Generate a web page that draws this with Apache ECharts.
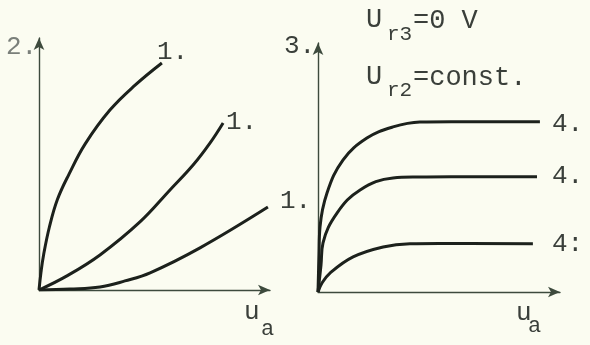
<!DOCTYPE html>
<html>
<head>
<meta charset="utf-8">
<script src="https://cdn.jsdelivr.net/npm/echarts@6/dist/echarts.min.js"></script>
<style>
  html, body { margin: 0; padding: 0; background: #fbfcf1; }
  #chart { width: 590px; height: 345px; }
</style>
</head>
<body>
<div id="chart"></div>
<script>
// left panel: three curves, [x, y] in axis units 0..100
var leftTop = [[0,0],[0.87,7.1],[2,14],[4.5,25],[8,36],[13,46],[20,58],[30.7,71.4],[41.6,81.3],[53.2,90.1]];
var leftMid = [[0,0],[12.1,5.6],[26.4,13.9],[43.7,27.0],[56.7,39.7],[66.7,49.6],[74.0,58.3],[79.7,66.3]];
var leftLow = [[0,0],[13.4,0.4],[26.4,1.2],[37.2,3.6],[48.1,6.8],[69.7,16.7],[99.1,32.9]];

// right panel: three saturating curves
var rightTop = [[0,0],[0.41,14.9],[0.83,26.1],[3.72,39.8],[10.3,53.0],[20.2,61.8],[31.0,66.3],[42.1,68.3],[55,68.4],[91.7,68.4]];
var rightMid = [[0,0],[1.24,10.8],[2.07,19.7],[7.85,31.7],[17.4,41.0],[31.0,45.8],[42.1,46.2],[55,46.3],[90.5,46.3]];
var rightLow = [[0,0],[1.65,3.6],[4.96,7.6],[14.5,14.1],[26.9,18.1],[38.0,19.4],[50,19.5],[88.8,19.4]];

var curveLabels = ['1.', '1.', '1.', '4.', '4.', '4:'];

var ink = '#1c211c';
var axisInk = '#3d4a3d';
var mono = '"Liberation Mono", "DejaVu Sans Mono", monospace';

function axis(gi) {
    return {
        type: 'value', gridIndex: gi, min: 0, max: 100,
        axisLine: { show: true, symbol: ['none', 'arrow'], symbolSize: [8, 12],
            lineStyle: { color: axisInk, width: 1.4 } },
        axisTick: { show: false }, axisLabel: { show: false }, splitLine: { show: false }
    };
}

function curve(gi, data) {
    return {
        type: 'line', xAxisIndex: gi, yAxisIndex: gi, data: data,
        smooth: 0.4, showSymbol: false, silent: true,
        lineStyle: { color: ink, width: 3 }
    };
}

function txt(x, y, s, size, color) {
    return { type: 'text', left: x, top: y,
        style: { text: s, font: 'normal ' + (size || 26) + 'px ' + mono, fill: color || '#3a3f3a' } };
}

var myChart = echarts.init(document.getElementById('chart'));
var option = {
    backgroundColor: '#fbfcf1',
    animation: false,
    grid: [
        { left: 39, top: 38, width: 231, height: 252 },
        { left: 318, top: 43, width: 242, height: 249 }
    ],
    xAxis: [axis(0), axis(1)],
    yAxis: [axis(0), axis(1)],
    series: [
        curve(0, leftTop), curve(0, leftMid), curve(0, leftLow),
        curve(1, rightTop), curve(1, rightMid), curve(1, rightLow)
    ],
    graphic: [
        txt(6, 34, '2.', 26, '#7a7f7a'),
        txt(157, 39, curveLabels[0]),
        txt(226, 109, curveLabels[1]),
        txt(280, 188, curveLabels[2]),
        txt(284, 33, '3.'),
        txt(552, 111, curveLabels[3]),
        txt(552, 163, curveLabels[4]),
        txt(552, 231, curveLabels[5]),
        // U_r3 = 0 V
        txt(366, 6, 'U', 27),
        txt(387, 24, 'r3', 21),
        txt(413, 7, '=0 V', 27),
        // U_r2 = const.
        txt(366, 63, 'U', 27),
        txt(387, 80, 'r2', 21),
        txt(413, 64, '=const.', 27),
        // u_a labels
        txt(244, 299, 'u', 26),
        txt(261, 318, 'a', 22),
        txt(516, 300, 'u', 26),
        txt(528, 315, 'a', 22)
    ]
};
myChart.setOption(option);
</script>
</body>
</html>
